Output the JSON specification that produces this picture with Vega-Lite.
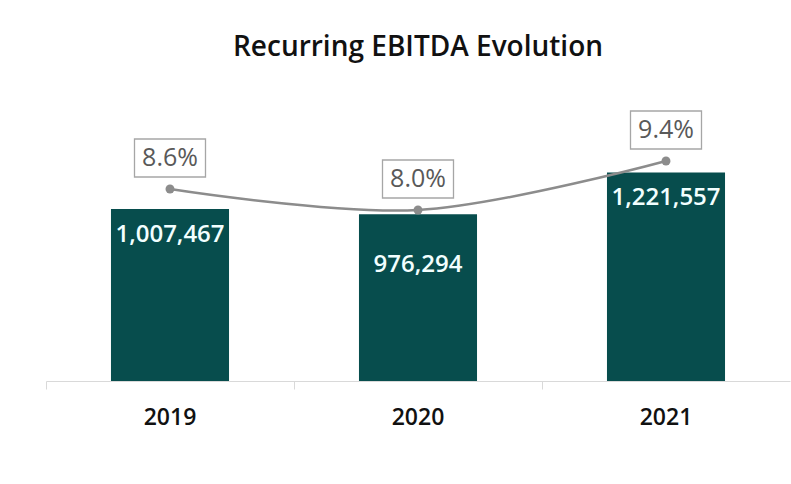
{
  "$schema": "https://vega.github.io/schema/vega-lite/v6.json",
  "width": 744,
  "height": 311,
  "autosize": "none",
  "padding": {"left": 46, "top": 70, "right": 1, "bottom": 103},
  "background": "white",
  "config": {"view": {"stroke": null}, "font": "Open Sans"},
  "title": {"text": "Recurring EBITDA Evolution", "fontSize": 28, "fontWeight": 600, "color": "#111111", "offset": 8, "anchor": "middle", "font": "Open Sans"},
  "data": {"values": [
    {"year": "2019", "ebitda": 1007467, "margin": 0.086},
    {"year": "2020", "ebitda": 976294, "margin": 0.080},
    {"year": "2021", "ebitda": 1221557, "margin": 0.094}
  ]},
  "encoding": {
    "x": {"field": "year", "type": "nominal", "sort": null,
      "scale": {"paddingInner": 0, "paddingOuter": 0},
      "axis": {"title": null, "bandPosition": 0, "labelAngle": 0, "labelFontSize": 23, "labelFontWeight": 600, "labelColor": "#111111", "labelPadding": 17, "tickColor": "#d9d9d9", "tickSize": 8, "domainColor": "#d9d9d9", "labelFont": "Open Sans", "labelBaseline": "top"}
    }
  },
  "layer": [
    {
      "encoding": {"y": {"field": "ebitda", "type": "quantitative", "scale": {"domain": [0, 1821600], "nice": false, "zero": true}, "axis": null}},
      "layer": [
        {"mark": {"type": "bar", "color": "#074d4d", "width": {"band": 0.476}}},
        {"transform": [{"filter": "datum.year != '2020'"}],
         "mark": {"type": "text", "dy": 26, "fontSize": 24, "color": "#f2ffff", "baseline": "middle", "fontWeight": 600},
         "encoding": {"text": {"field": "ebitda", "type": "quantitative", "format": ","}}},
        {"transform": [{"filter": "datum.year == '2020'"}],
         "mark": {"type": "text", "dy": 51, "fontSize": 24, "color": "#f2ffff", "baseline": "middle", "fontWeight": 600},
         "encoding": {"text": {"field": "ebitda", "type": "quantitative", "format": ","}}}
      ]
    },
    {
      "encoding": {"y": {"field": "margin", "type": "quantitative", "scale": {"domain": [0.03114, 0.12], "nice": false, "zero": false}, "axis": null}},
      "layer": [
        {"mark": {"type": "line", "color": "#8c8c8c", "strokeWidth": 2.5, "interpolate": "catmull-rom"}},
        {"mark": {"type": "point", "filled": true, "color": "#8c8c8c", "size": 80, "opacity": 1}},
        {"mark": {"type": "point", "shape": "M-1,-1.408L1,-1.408L1,-0.338L-1,-0.338Z", "size": 5041, "filled": true, "fill": "#ffffff", "stroke": "#a6a6a6", "strokeWidth": 1.3, "opacity": 1}},
        {"mark": {"type": "text", "dy": -31, "fontSize": 25, "color": "#595959", "baseline": "middle", "fontWeight": 500},
         "encoding": {"text": {"field": "margin", "type": "quantitative", "format": ".1%"}}}
      ]
    }
  ],
  "resolve": {"scale": {"y": "independent"}}
}
